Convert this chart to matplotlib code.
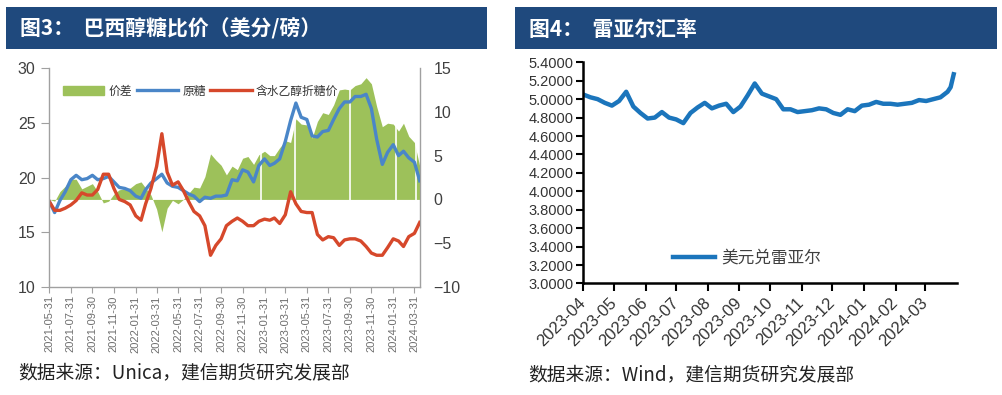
import numpy as np
import pandas as pd
import matplotlib
matplotlib.use('Agg')
import matplotlib.pyplot as plt
import matplotlib.patches as mpatches
from matplotlib.lines import Line2D
from matplotlib.ticker import FormatStrFormatter

plt.rcParams['font.family'] = ['Liberation Sans', 'Noto Sans CJK SC', 'DejaVu Sans']
CJK = ['Noto Sans CJK SC', 'DejaVu Sans']

NAVY = '#1F497D'
GREEN = '#9DC15A'
BLUE = '#4A86C8'
RED = '#D6482B'
FX_BLUE = '#1B75BC'

# ---------------- left chart: Brazil ethanol vs sugar (US cents / lb) ----------------
# semi-monthly samples: 15th and month end
dates = [pd.Timestamp('2021-05-31')]
for m in pd.date_range('2021-06-01', '2024-03-01', freq='MS'):
    dates.append(m + pd.Timedelta(days=14))
    dates.append(m + pd.offsets.MonthEnd(0))
dates.append(pd.Timestamp('2024-04-15'))

raw_sugar = [17.8, 16.8, 17.9, 18.7, 19.8, 20.2, 19.8, 19.9, 20.2, 19.8,
             19.9, 20.1, 19.6, 19.1, 19.0, 18.8, 18.3, 18.1, 18.9, 19.5,
             19.9, 20.3, 19.5, 19.2, 19.1, 18.8, 18.5, 18.3, 17.8, 18.2,
             18.1, 18.3, 18.3, 18.4, 19.8, 19.7, 20.7, 20.5, 19.6, 21.1,
             21.7, 21.1, 21.3, 21.7, 23.3, 25.2, 26.8, 25.5, 25.3, 23.8,
             23.7, 24.2, 24.3, 25.3, 26.3, 26.9, 26.9, 27.4, 27.4, 27.6,
             26.3, 23.5, 21.2, 22.3, 23.0, 22.0, 22.4, 21.8, 21.4, 19.7]
ethanol_eq = [17.8, 17.0, 17.0, 17.2, 17.5, 17.9, 18.6, 18.4, 18.4, 18.9,
              20.3, 20.3, 19.0, 18.0, 17.8, 17.5, 16.5, 16.1, 17.6, 19.0,
              21.0, 24.0, 20.5, 19.3, 19.6, 18.8, 17.8, 16.9, 16.5, 15.6,
              12.9, 13.8, 14.4, 15.6, 16.0, 16.3, 16.0, 15.6, 15.6, 16.0,
              16.2, 16.1, 16.3, 15.8, 16.6, 18.7, 17.6, 16.9, 16.8, 16.8,
              14.8, 14.3, 14.6, 14.5, 13.8, 14.3, 14.4, 14.4, 14.2, 13.7,
              13.1, 12.9, 12.9, 13.6, 14.4, 14.2, 13.7, 14.6, 14.9, 15.9]
spread = np.array(raw_sugar) - np.array(ethanol_eq)
# days with no spread value (white gaps in the green bars)
gap_dates = pd.to_datetime(['2023-01-21', '2023-04-28', '2023-09-29',
                            '2024-02-08', '2024-04-04'])

left_ticks = [pd.Timestamp('2021-05-01') + pd.DateOffset(months=2 * i) + pd.offsets.MonthEnd(0)
              for i in range(18)]

# ---------------- right chart: USD/BRL ----------------
fx_dates = list(pd.date_range('2023-04-01', periods=52, freq='7D')) + \
    [pd.Timestamp('2024-03-26'), pd.Timestamp('2024-03-29')]
usd_brl = [5.05, 5.02, 5.00, 4.96, 4.93, 4.98, 5.08, 4.92, 4.85, 4.79,
           4.80, 4.86, 4.80, 4.78, 4.74, 4.85, 4.91, 4.96, 4.90, 4.93,
           4.95, 4.86, 4.92, 5.04, 5.17, 5.06, 5.03, 5.00, 4.89, 4.89,
           4.86, 4.87, 4.88, 4.90, 4.89, 4.85, 4.83, 4.89, 4.87, 4.93,
           4.94, 4.97, 4.95, 4.95, 4.94, 4.95, 4.96, 4.99, 4.98, 5.00,
           5.02, 5.08, 5.13, 5.27]
fx_ticks = pd.date_range('2023-04-01', periods=12, freq='MS')

fig = plt.figure(figsize=(10.03, 3.95), dpi=100)

# header bars
for x0, x1, title in [(6, 487, '图3：  巴西醇糖比价（美分/磅）'),
                      (515, 997, '图4：  雷亚尔汇率')]:
    fig.add_artist(mpatches.Rectangle((x0 / 1003, 1 - 49 / 395), (x1 - x0) / 1003, 42 / 395,
                                      transform=fig.transFigure, facecolor=NAVY,
                                      edgecolor='none'))
    fig.text((x0 + 14) / 1003, 1 - 29 / 395, title, color='white', fontsize=15,
             fontweight='bold', va='center', family=CJK)

# ---- left axes
ax = fig.add_axes([0.0492, 0.2734, 0.3696, 0.5544])
axr = ax.twinx()
ax.set_zorder(axr.get_zorder() + 1)
ax.patch.set_visible(False)

axr.fill_between(dates, 0, spread, color=GREEN, lw=0)
for d in gap_dates:
    axr.axvline(d, color='white', lw=1.2)
axr.set_ylim(-10, 15)
axr.set_yticks(range(-10, 16, 5))

ax.plot(dates, raw_sugar, color=BLUE, lw=2.4)
ax.plot(dates, ethanol_eq, color=RED, lw=2.4)
ax.set_ylim(10, 30)
ax.set_yticks(range(10, 31, 5))
ax.set_xlim(pd.Timestamp('2021-05-31'), pd.Timestamp('2024-04-16'))
axr.set_xlim(ax.get_xlim())
ax.set_xticks(left_ticks)
ax.set_xticklabels([d.strftime('%Y-%m-%d') for d in left_ticks], rotation=90)

for s in ['top', 'right']:
    ax.spines[s].set_visible(False)
for s in ['top', 'left', 'bottom']:
    axr.spines[s].set_visible(False)
for sp in [ax.spines['left'], ax.spines['bottom'], axr.spines['right']]:
    sp.set_color('#A0A0A0')
    sp.set_linewidth(1.0)

ax.tick_params(axis='y', length=6, width=0.8, color='#A0A0A0', labelsize=11.5,
               labelcolor='#404040', pad=4)
ax.tick_params(axis='x', length=4, width=0.8, color='#A0A0A0', labelsize=8,
               labelcolor='#6E6E6E', pad=2)
axr.tick_params(axis='y', length=0, pad=9.5, labelsize=11.5, labelcolor='#404040')

handles = [mpatches.Patch(color=GREEN, label='价差'),
           Line2D([], [], color=BLUE, lw=2.4, label='原糖'),
           Line2D([], [], color=RED, lw=2.4, label='含水乙醇折糖价')]
ax.legend(handles=handles, loc='center left', bbox_to_anchor=(0.037, 0.895), ncol=3,
          frameon=False, prop={'family': CJK, 'size': 8.5}, handlelength=3.5,
          handletextpad=0.35, columnspacing=0.4, borderpad=0, borderaxespad=0,
          labelcolor='#333333')

# ---- right axes
bx = fig.add_axes([0.5816, 0.2823, 0.3723, 0.5600])
bx.plot(fx_dates, usd_brl, color=FX_BLUE, lw=3.2, label='美元兑雷亚尔')
bx.set_ylim(3.0, 5.4)
bx.set_yticks(np.arange(3.0, 5.41, 0.2))
bx.yaxis.set_major_formatter(FormatStrFormatter('%.4f'))
bx.set_xlim(pd.Timestamp('2023-04-01'), pd.Timestamp('2024-04-01'))
bx.set_xticks(fx_ticks)
bx.set_xticklabels([d.strftime('%Y-%m') for d in fx_ticks], rotation=45, ha='right',
                   va='center', rotation_mode='anchor')
for s in ['top', 'right']:
    bx.spines[s].set_visible(False)
for s in ['left', 'bottom']:
    bx.spines[s].set_color('black')
    bx.spines[s].set_linewidth(1.8)
bx.tick_params(axis='y', length=5, width=1.5, labelsize=10.5, labelcolor='#333333', pad=2)
bx.tick_params(axis='x', length=6, width=1.5, labelsize=12, labelcolor='#333333', pad=6)
bx.legend(loc='center left', bbox_to_anchor=(0.24, 0.114), frameon=False,
          prop={'family': CJK, 'size': 12}, handlelength=2.5, handletextpad=0.4,
          borderpad=0, borderaxespad=0, labelcolor='#404040')

# source notes
fig.text(18 / 1003, 1 - 373 / 395, '数据来源：Unica，建信期货研究发展部', fontsize=13.5,
         va='center', family=CJK, color='#222222')
fig.text(528 / 1003, 1 - 375 / 395, '数据来源：Wind，建信期货研究发展部', fontsize=13.5,
         va='center', family=CJK, color='#222222')

fig.savefig('out.png', dpi=100)
